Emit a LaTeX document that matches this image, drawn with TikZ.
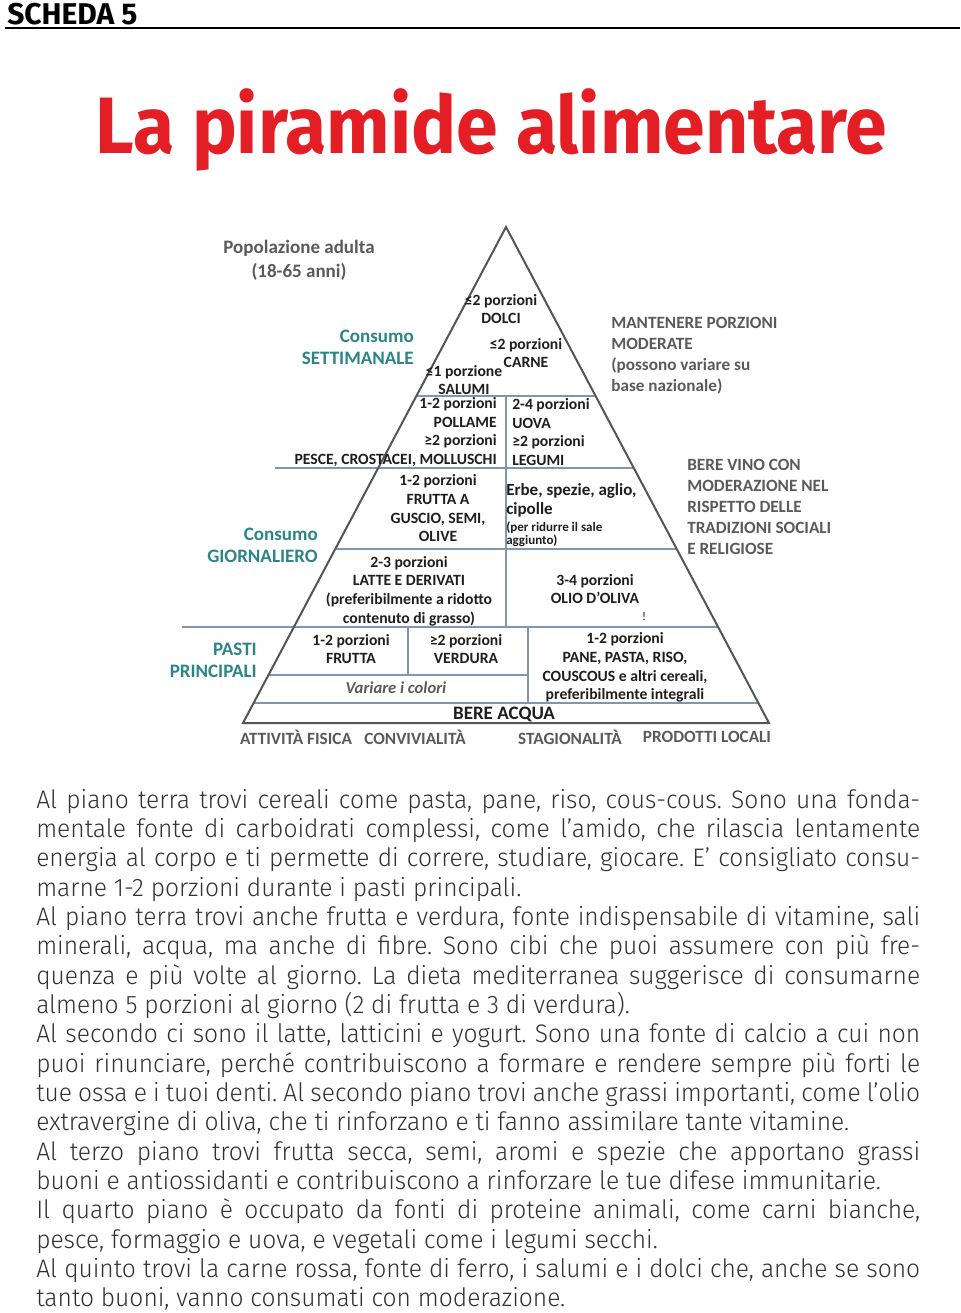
\documentclass[tikz,border=0pt]{standalone}
\usepackage{fontspec}
\setmainfont{Carlito}
\newfontfamily\titlefont{Fira Sans}[FakeStretch=0.94]
\newfontfamily\headfont{Fira Sans}
\newfontfamily\bodyfont{Fira Sans Light}[FakeStretch=0.97]
\definecolor{titlered}{RGB}{227,30,36}
\definecolor{bodytext}{RGB}{50,50,50}
\definecolor{tealtext}{RGB}{43,133,136}
\definecolor{sidegray}{RGB}{90,90,90}
\definecolor{pyrtext}{RGB}{30,30,30}
\definecolor{tierblue}{RGB}{128,149,176}
\definecolor{rimgray}{RGB}{85,85,85}
\newcommand\fullline[1]{\makebox[\linewidth][s]{#1}\\}
\newcommand\lastline[1]{#1\\}
\begin{document}
\begin{tikzpicture}[x=0.75pt,y=0.75pt,yscale=-1,
  tier/.style={color=tierblue,line width=1.6pt},
  rim/.style={color=rimgray,line width=1.5pt,line join=miter},
  pyr/.style={inner sep=0,align=center,text=pyrtext,font=\bfseries\fontsize{11.75}{14}\selectfont},
  small/.style={inner sep=0,align=left,text=pyrtext,font=\bfseries\fontsize{9.75}{10}\selectfont},
  cons/.style={inner sep=0,align=right,text=tealtext,font=\bfseries\fontsize{14.25}{16.5}\selectfont},
  side/.style={inner sep=0,align=left,text=sidegray,font=\bfseries\fontsize{12.9}{15.75}\selectfont},
  foot/.style={inner sep=0,text=sidegray,font=\bfseries\fontsize{12.9}{14}\selectfont}]
%uncomment if require: \path (0,1313); %page of 960 x 1313
\fill[white] (0,0) rectangle (960,1313);
\useasboundingbox (0,0) rectangle (960,1313);

% Header
\node [anchor=base west,inner sep=0,font=\headfont\bfseries\fontsize{22.5}{23}\selectfont] (scheda) at (7,25) {SCHEDA 5};
\draw [line width=1.5pt] (5,28) -- (960,28) ;
% Title
\node [anchor=base west,inner sep=0,text=titlered,font=\titlefont\bfseries\fontsize{60}{60}\selectfont] (title) at (95,153) {La piramide alimentare};

%Shape: Pyramid
\coordinate (apex) at (506,227);
\coordinate (bl) at (243,723);
\coordinate (br) at (769,723);
%Straight Lines
\draw [tier] (416.4,396) -- (595.6,396) ;
\draw [tier] (275,468) -- (633.8,468) ;
\draw [tier] (335.3,549) -- (676.7,549) ;
\draw [tier] (182,627) -- (718.1,627) ;
\draw [tier] (268.5,675) -- (528,675) ;
\draw [tier] (253.6,703) -- (758.4,703) ;
\draw [tier] (506,396) -- (506,627) ;
\draw [tier] (408,627) -- (408,675) ;
\draw [tier] (528,627) -- (528,703) ;
\draw [rim] (bl) -- (apex) -- (br) -- cycle ;

% Text Node
\node [pyr] (dolci) at (501,309) {≤2 porzioni\\DOLCI};
\node [pyr] (carne) at (526,353) {≤2 porzioni\\CARNE};
\node [pyr] (salumi) at (464,380) {≤1 porzione\\SALUMI};
\node [pyr,align=right,anchor=east] (pesce) at (497,432) {1-2 porzioni\\POLLAME\\≥2 porzioni\\PESCE, CROSTACEI, MOLLUSCHI};
\node [pyr,align=left,anchor=west] (legumi) at (512,432) {2-4 porzioni\\UOVA\\≥2 porzioni\\LEGUMI};
\node [pyr] (guscio) at (438,508.5) {1-2 porzioni\\FRUTTA A\\GUSCIO, SEMI,\\OLIVE};
\node [pyr,align=left,anchor=west,font=\bfseries\fontsize{12.75}{14.25}\selectfont] (erbe) at (506,500) {Erbe, spezie, aglio,\\cipolle};
\node [small,anchor=west] (sale) at (506,534) {(per ridurre il sale\\aggiunto)};
\node [pyr] (latte) at (409,591) {2-3 porzioni\\LATTE E DERIVATI\\(preferibilmente a ridotto\\contenuto di grasso)};
\node [pyr] (olio) at (595,589) {3-4 porzioni\\OLIO D’OLIVA};
\node [pyr,font=\fontsize{9}{9}\selectfont] (mark) at (644,616) {!};
\node [pyr] (frutta) at (351,649) {1-2 porzioni\\FRUTTA};
\node [pyr] (verdura) at (466,649) {≥2 porzioni\\VERDURA};
\node [pyr] (cereali) at (625,667.5) {1-2 porzioni\\PANE, PASTA, RISO,\\COUSCOUS e altri cereali,\\preferibilmente integrali};
\node [pyr,font=\bfseries\itshape\fontsize{12.5}{14}\selectfont,text=sidegray] (colori) at (396,688) {Variare i colori};
\node [pyr,font=\bfseries\fontsize{14.25}{15}\selectfont] (acqua) at (504,714) {BERE ACQUA};

% Text Node
\node [foot] (attivita) at (296,737) {ATTIVITÀ FISICA};
\node [foot] (convivio) at (415,737) {CONVIVIALITÀ};
\node [foot] (stagione) at (570,737) {STAGIONALITÀ};
\node [foot] (prodotti) at (707,737) {PRODOTTI LOCALI};

% Text Node
\node [side,align=center,font=\bfseries\fontsize{14.25}{18}\selectfont] (adulti) at (299,260) {Popolazione adulta\\(18-65 anni)};
\node [cons,anchor=east] (settimana) at (414,347.5) {Consumo\\SETTIMANALE};
\node [cons,anchor=east] (giorno) at (318,545) {Consumo\\GIORNALIERO};
\node [cons,anchor=east] (pasti) at (257,660) {PASTI\\PRINCIPALI};
\node [side,anchor=west] (porzioni) at (611,356) {MANTENERE PORZIONI\\MODERATE\\(possono variare su\\base nazionale)};
\node [side,anchor=west] (vino) at (687,507) {BERE VINO CON\\MODERAZIONE NEL\\RISPETTO DELLE\\TRADIZIONI SOCIALI\\E RELIGIOSE};

% Text Node
\node [anchor=base west,inner sep=0,text=bodytext] (body) at (36,808) {\parbox[t]{663pt}{\bodyfont\frenchspacing\fontsize{19}{22}\selectfont
\fullline{Al piano terra trovi cereali come pasta, pane, riso, cous-cous. Sono una fonda-}
\fullline{mentale fonte di carboidrati complessi, come l’amido, che rilascia lentamente}
\fullline{energia al corpo e ti permette di correre, studiare, giocare. E’ consigliato consu-}
\lastline{marne 1-2 porzioni durante i pasti principali.}
\fullline{Al piano terra trovi anche frutta e verdura, fonte indispensabile di vitamine, sali}
\fullline{minerali, acqua, ma anche di fibre. Sono cibi che puoi assumere con più fre-}
\fullline{quenza e più volte al giorno. La dieta mediterranea suggerisce di consumarne}
\lastline{almeno 5 porzioni al giorno (2 di frutta e 3 di verdura).}
\fullline{Al secondo ci sono il latte, latticini e yogurt. Sono una fonte di calcio a cui non}
\fullline{puoi rinunciare, perché contribuiscono a formare e rendere sempre più forti le}
\fullline{tue ossa e i tuoi denti. Al secondo piano trovi anche grassi importanti, come l’olio}
\lastline{extravergine di oliva, che ti rinforzano e ti fanno assimilare tante vitamine.}
\fullline{Al terzo piano trovi frutta secca, semi, aromi e spezie che apportano grassi}
\lastline{buoni e antiossidanti e contribuiscono a rinforzare le tue difese immunitarie.}
\fullline{Il quarto piano è occupato da fonti di proteine animali, come carni bianche,}
\lastline{pesce, formaggio e uova, e vegetali come i legumi secchi.}
\fullline{Al quinto trovi la carne rossa, fonte di ferro, i salumi e i dolci che, anche se sono}
tanto buoni, vanno consumati con moderazione.}};

\end{tikzpicture}
\end{document}
